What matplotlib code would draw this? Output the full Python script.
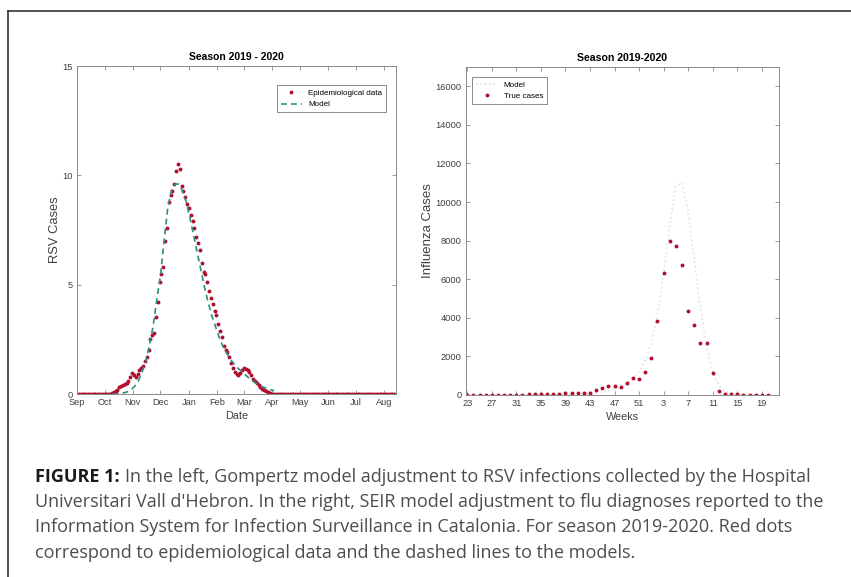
import numpy as np
import pandas as pd
import matplotlib
matplotlib.use("Agg")
import matplotlib.pyplot as plt
import matplotlib.dates as mdates
from matplotlib.lines import Line2D

# RSV, daily series sampled every 2 days from 1 Sep 2019
rsv_start = "2019-09-01"
rsv_cases = ([0.0] * 19 +
             [0.05, 0.1, 0.15, 0.2, 0.3, 0.35, 0.4, 0.45, 0.5, 0.6,
              0.8, 0.95, 0.85, 0.8, 0.9, 1.1, 1.2, 1.3, 1.5, 1.7,
              2.0, 2.5, 2.7, 2.8, 3.5, 4.2, 5.1, 5.5, 5.8, 7.0,
              7.6, 8.8, 9.1, 9.3, 9.6, 10.2, 10.5, 10.3, 9.5, 9.3,
              9.0, 8.7, 8.5, 8.2, 7.9, 7.6, 7.2, 6.9, 6.6, 6.0,
              5.6, 5.5, 5.1, 4.7, 4.4, 4.1, 3.8, 3.6, 3.2, 2.9,
              2.6, 2.2, 2.0, 1.9, 1.7, 1.4, 1.2, 1.0, 0.9, 0.85,
              0.95, 1.1, 1.2, 1.15, 1.1, 1.0, 0.85, 0.7, 0.6, 0.5,
              0.4, 0.3, 0.25, 0.2, 0.15, 0.1, 0.05] +
             [0.0] * 68)

# Gompertz model, every 4 days from 10 Oct 2019
model_start = "2019-10-10"
rsv_model = [0.0, 0.0, 0.02, 0.05, 0.1, 0.2, 0.35, 0.6, 1.0, 1.5,
             2.2, 3.1, 4.3, 5.4, 7.0, 8.5, 9.3, 9.6, 9.6, 9.3,
             8.8, 8.1, 7.3, 6.5, 5.7, 4.9, 4.2, 3.6, 3.1, 2.6,
             2.2, 1.9, 1.6, 1.4, 1.2, 1.05, 0.9, 0.75, 0.62, 0.5,
             0.4, 0.32, 0.25, 0.2, 0.15]

# Influenza, epidemiological weeks 23/2019 .. 20/2020
weeks = list(range(23, 53)) + list(range(1, 21))
flu_cases = [20, 10, 15, 10, 10, 15, 20, 15, 15, 20,
             30, 30, 40, 50, 60, 70, 90, 100, 110, 110,
             120, 260, 345, 466, 466, 430, 640, 863, 850, 1190,
             1935, 3830, 6300, 8000, 7740, 6740, 4370, 3640, 2680, 2680,
             1160, 230, 40, 30, 30, 20, 20, 20, 10, 10]
flu_model = [10, 10, 10, 10, 10, 10, 10, 10, 10, 10,
             10, 10, 15, 15, 20, 25, 30, 40, 50, 70,
             90, 120, 170, 230, 320, 450, 600, 850, 1200, 1800,
             2700, 4200, 6300, 8800, 10800, 11000, 9500, 7000, 4500, 2500,
             1200, 500, 200, 100, 50, 30, 20, 10, 10, 10]
week_labels = ["23", "27", "31", "35", "39", "43", "47", "51", "3", "7", "11", "15", "19"]

caption_head = "FIGURE 1:"
caption_lines = [
    "In the left, Gompertz model adjustment to RSV infections collected by the Hospital",
    "Universitari Vall d'Hebron. In the right, SEIR model adjustment to flu diagnoses reported to the",
    "Information System for Infection Surveillance in Catalonia. For season 2019-2020. Red dots",
    "correspond to epidemiological data and the dashed lines to the models.",
]

W, H = 851, 577
fig = plt.figure(figsize=(W / 100, H / 100), dpi=100)
plt.rcParams['font.family'] = ['Liberation Sans', 'DejaVu Sans']

red = "#b0102e"
teal = "#2f8f7f"
spine_c = "#8a8a8a"
txt_c = "#404040"


def matlab_style(ax):
    for s in ax.spines.values():
        s.set_color(spine_c)
        s.set_linewidth(0.7)
    ax.tick_params(direction="in", top=True, right=True, length=3,
                   width=0.6, color=spine_c, labelsize=6.7, labelcolor=txt_c, pad=3)


# ---- left: RSV
ax1 = fig.add_axes([77 / W, 1 - 394 / H, 319 / W, 328 / H])
d1 = pd.date_range(rsv_start, periods=len(rsv_cases), freq="2D")
d2 = pd.date_range(model_start, periods=len(rsv_model), freq="4D")
ax1.plot(d1, rsv_cases, ".", color=red, ms=3.6, label="Epidemiological data")
ax1.plot(d2, rsv_model, "--", color=teal, lw=1.2, dashes=(3.5, 2.5), label="Model")
ax1.set_xlim(pd.Timestamp("2019-09-01"), pd.Timestamp("2020-08-14"))
ax1.set_ylim(0, 15)
ax1.set_yticks([0, 5, 10, 15])
ax1.xaxis.set_major_locator(mdates.MonthLocator())
ax1.xaxis.set_major_formatter(mdates.DateFormatter("%b"))
matlab_style(ax1)
ax1.set_title("Season 2019 - 2020", fontsize=7.5, fontweight="bold", pad=4)
ax1.set_xlabel("Date", fontsize=7.8, color=txt_c, labelpad=3)
ax1.set_ylabel("RSV Cases", fontsize=9.3, color=txt_c, labelpad=1)
leg1 = ax1.legend(loc="upper right", fontsize=5.8, frameon=True, fancybox=False,
                  edgecolor="#555555", borderpad=0.5, handlelength=2.6,
                  borderaxespad=0, bbox_to_anchor=(0.97, 0.942))
leg1.get_frame().set_linewidth(0.6)

# ---- right: Influenza
ax2 = fig.add_axes([466 / W, 1 - 395 / H, 313 / W, 328 / H])
idx = np.arange(len(weeks))
ax2.plot(idx, flu_model, ":", color="#e2e2e2", lw=1.2, label="Model")
ax2.plot(idx, flu_cases, ".", color=red, ms=3.6, ls="none", label="True cases")
ax2.set_xlim(-0.2, 50.8)
ax2.set_ylim(0, 17000)
ax2.set_yticks(np.arange(0, 16001, 2000))
ax2.set_xticks(idx[::4])
ax2.set_xticklabels(week_labels)
matlab_style(ax2)
ax2.set_title("Season 2019-2020", fontsize=7.6, fontweight="bold", pad=4)
ax2.set_xlabel("Weeks", fontsize=7.8, color=txt_c, labelpad=3)
ax2.set_ylabel("Influenza Cases", fontsize=9.5, color=txt_c, labelpad=1)
leg2 = ax2.legend(loc="upper left", fontsize=5.8, frameon=True, fancybox=False,
                  edgecolor="#555555", borderpad=0.5, handlelength=2.6,
                  borderaxespad=0, bbox_to_anchor=(0.02, 0.97))
leg2.get_frame().set_linewidth(0.6)

# ---- frame round the figure
fig.add_artist(Line2D([8 / W, 1], [1 - 11 / H, 1 - 11 / H], color="#333333", lw=1.2))
fig.add_artist(Line2D([8 / W, 8 / W], [0, 1 - 11 / H], color="#333333", lw=1.2))

# ---- caption (font size fitted so that the second line is ~784 px wide)
r = fig.canvas.get_renderer()
cap_fam = ["Open Sans", "DejaVu Sans"]
probe = fig.text(0, 0, caption_lines[1], family=cap_fam, fontsize=12)
cap_size = 12 * 784 / probe.get_window_extent(renderer=r).width
probe.remove()

cap_font = dict(family=cap_fam, fontsize=cap_size, color="#4d4d4d", va="center")
x0 = 35 / W
bold = fig.text(x0, 1 - 477 / H, caption_head, fontweight="bold",
                **{**cap_font, "color": "#1a1a1a"})
bb = bold.get_window_extent(renderer=r)
fig.text((bb.x1 + 5) / W, 1 - 477 / H, caption_lines[0], **cap_font)
for i, t in enumerate(caption_lines[1:]):
    fig.text(x0, 1 - (502 + 25.5 * i) / H, t, **cap_font)

fig.savefig("out.png", dpi=100)
